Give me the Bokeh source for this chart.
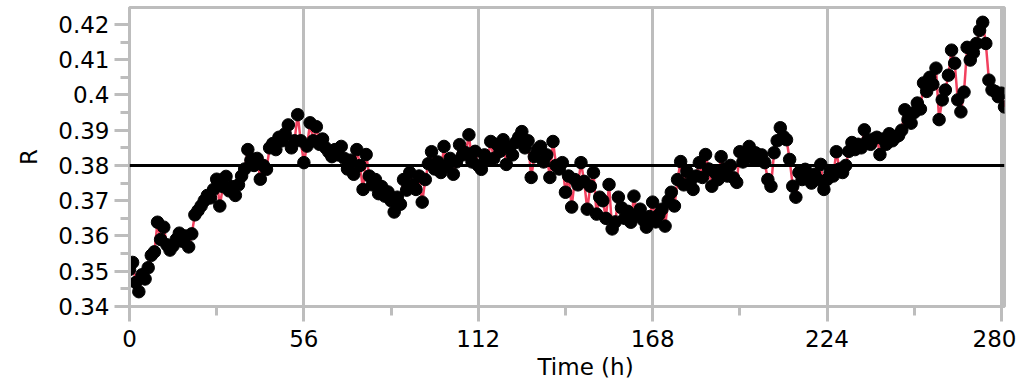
from bokeh.plotting import figure
from bokeh.models import FixedTicker, Span, Range1d, CustomJSTickFormatter, Title, ColumnDataSource
from bokeh.embed import file_html
from bokeh.resources import INLINE

time_h = list(range(0, 282))
r_values = [
    0.3505, 0.3525, 0.3468, 0.3442, 0.3490, 0.3478, 0.3510, 0.3545, 0.3555, 0.3639,
    0.3590, 0.3625, 0.3575, 0.3560, 0.3572, 0.3590, 0.3608, 0.3585, 0.3600, 0.3569,
    0.3606, 0.3660, 0.3672, 0.3685, 0.3700, 0.3715, 0.3708, 0.3732, 0.3761, 0.3685,
    0.3740, 0.3769, 0.3728, 0.3740, 0.3715, 0.3745, 0.3770, 0.3790, 0.3845, 0.3815,
    0.3800, 0.3820, 0.3761, 0.3800, 0.3789, 0.3850, 0.3862, 0.3845, 0.3880, 0.3870,
    0.3890, 0.3915, 0.3850, 0.3870, 0.3944, 0.3870, 0.3808, 0.3855, 0.3921, 0.3870,
    0.3910, 0.3860, 0.3875, 0.3850, 0.3838, 0.3825, 0.3845, 0.3830, 0.3854, 0.3820,
    0.3790, 0.3815, 0.3775, 0.3845, 0.3800, 0.3732, 0.3831, 0.3770, 0.3745, 0.3760,
    0.3720, 0.3740, 0.3713, 0.3725, 0.3700, 0.3668, 0.3710, 0.3690, 0.3760, 0.3730,
    0.3780, 0.3745, 0.3732, 0.3770, 0.3696, 0.3760, 0.3805, 0.3839, 0.3790, 0.3810,
    0.3780, 0.3854, 0.3800, 0.3820, 0.3775, 0.3810, 0.3859, 0.3830, 0.3836, 0.3887,
    0.3810, 0.3840, 0.3800, 0.3789, 0.3830, 0.3815, 0.3868, 0.3820, 0.3860, 0.3840,
    0.3873, 0.3803, 0.3850, 0.3830, 0.3865, 0.3880, 0.3896, 0.3850, 0.3870, 0.3766,
    0.3825, 0.3845, 0.3854, 0.3810, 0.3830, 0.3766, 0.3868, 0.3800, 0.3790, 0.3808,
    0.3724, 0.3770, 0.3682, 0.3760, 0.3745, 0.3808, 0.3755, 0.3676, 0.3741, 0.3780,
    0.3662, 0.3710, 0.3700, 0.3650, 0.3746, 0.3620, 0.3640, 0.3710, 0.3680, 0.3650,
    0.3670, 0.3639, 0.3713, 0.3660, 0.3676, 0.3645, 0.3625, 0.3655, 0.3696, 0.3640,
    0.3660, 0.3676, 0.3628, 0.3700, 0.3724, 0.3685, 0.3760, 0.3811, 0.3745, 0.3783,
    0.3750, 0.3732, 0.3770, 0.3808, 0.3766, 0.3831, 0.3790, 0.3741, 0.3780, 0.3760,
    0.3825, 0.3790, 0.3770, 0.3800, 0.3765, 0.3752, 0.3839, 0.3810, 0.3825, 0.3854,
    0.3820, 0.3836, 0.3815, 0.3830, 0.3808, 0.3760, 0.3741, 0.3836, 0.3870, 0.3907,
    0.3882, 0.3873, 0.3817, 0.3741, 0.3710, 0.3780, 0.3760, 0.3789, 0.3770, 0.3750,
    0.3775, 0.3760, 0.3803, 0.3732, 0.3760, 0.3780, 0.3770, 0.3839, 0.3790, 0.3780,
    0.3800, 0.3840, 0.3865, 0.3845, 0.3860, 0.3850, 0.3901, 0.3870, 0.3860, 0.3875,
    0.3880, 0.3831, 0.3875, 0.3860, 0.3890, 0.3870, 0.3880, 0.3885, 0.3900, 0.3958,
    0.3930, 0.3920, 0.3950, 0.3977, 0.3960, 0.4034, 0.4010, 0.4050, 0.4030, 0.4076,
    0.3930, 0.3986, 0.4014, 0.4056, 0.4127, 0.4090, 0.3986, 0.3952, 0.4008, 0.4135,
    0.4099, 0.4120, 0.4146, 0.4183, 0.4206, 0.4146, 0.4042, 0.4014, 0.4010, 0.3995,
    0.4005, 0.3966,
]
reference_r = 0.38
x_major = [0, 56, 112, 168, 224, 280]
x_minor = [28, 84, 140, 196, 252]
y_major = [0.34, 0.35, 0.36, 0.37, 0.38, 0.39, 0.40, 0.41, 0.42]
y_minor = [0.345, 0.355, 0.365, 0.375, 0.385, 0.395, 0.405, 0.415]
x_title = "Time (h)"
y_title = "R"

FONT = "DejaVu Sans"
GRAY = "#bdbdbd"

src = ColumnDataSource(dict(t=time_h, r=r_values))

p = figure(width=1016, height=381, output_backend="svg", toolbar_location=None,
           x_range=Range1d(0, 281), y_range=Range1d(0.34, 0.4248),
           min_border_left=129, min_border_right=12, min_border_top=7, min_border_bottom=73)
p.background_fill_color = "white"
p.border_fill_color = "white"
p.outline_line_color = GRAY
p.outline_line_width = 3

p.line("t", "r", source=src, line_color="#f2405e", line_width=2.5)
p.scatter("t", "r", source=src, size=12.5, fill_color="black", line_color="black")

p.add_layout(Span(location=reference_r, dimension="width", line_color="black", line_width=3))

p.xaxis.ticker = FixedTicker(ticks=x_major, minor_ticks=x_minor)
p.yaxis.ticker = FixedTicker(ticks=y_major, minor_ticks=y_minor)
p.yaxis.formatter = CustomJSTickFormatter(code="return Number(tick.toFixed(3)).toString();")

for ax in (p.xaxis[0], p.yaxis[0]):
    ax.axis_line_color = GRAY
    ax.axis_line_width = 3
    ax.major_tick_line_color = GRAY
    ax.major_tick_line_width = 3
    ax.minor_tick_line_color = GRAY
    ax.minor_tick_line_width = 3
    ax.major_tick_in = 0
    ax.major_tick_out = 15
    ax.minor_tick_in = 0
    ax.minor_tick_out = 9
    ax.major_label_text_font = FONT
    ax.major_label_text_font_size = "23px"
    ax.major_label_text_color = "black"
    ax.axis_label_text_font = FONT
    ax.axis_label_text_font_size = "23px"
    ax.axis_label_text_font_style = "normal"
    ax.axis_label_text_color = "black"

p.xaxis.major_label_standoff = 8
p.yaxis.major_label_standoff = 5
p.yaxis.axis_label = y_title
p.yaxis.axis_label_standoff = 13

p.xgrid.ticker = FixedTicker(ticks=x_major[1:])
p.xgrid.grid_line_color = GRAY
p.xgrid.grid_line_width = 3
p.ygrid.grid_line_color = None

p.add_layout(Title(text=x_title, align="left", offset=408, text_font=FONT,
                   text_font_size="23px", text_font_style="normal", text_color="black",
                   standoff=4), "below")

open("out.html", "w").write(file_html(p, INLINE))
